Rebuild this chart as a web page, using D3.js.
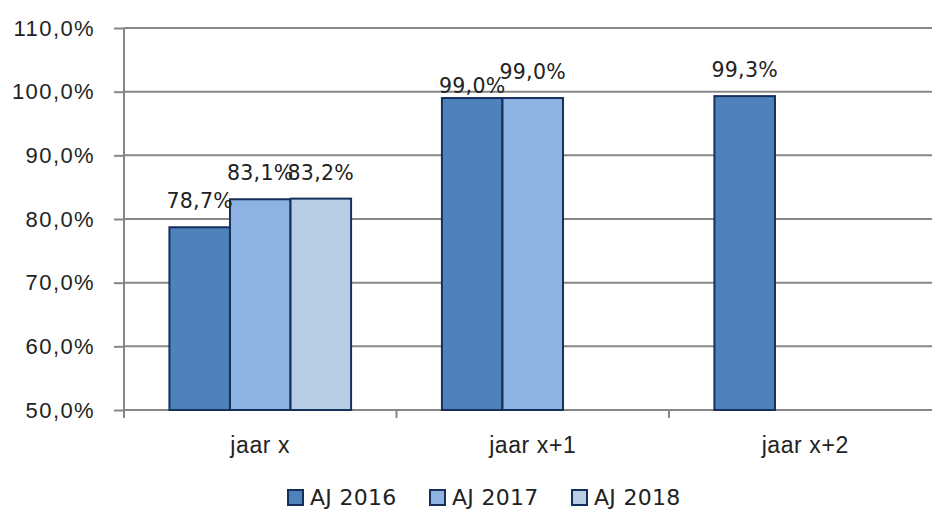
<!DOCTYPE html>
<html>
<head>
<meta charset="utf-8">
<script src="https://cdn.jsdelivr.net/npm/d3@7"></script>
<style>
  body { margin: 0; background: #fff; }
  svg { display: block; font-family: "DejaVu Sans", sans-serif; }
  .grid line { stroke: #878787; stroke-width: 2; }
  .axis path, .axis line { stroke: #878787; stroke-width: 2; }
  .axis text { fill: #222; }
  .bar { stroke: #15305a; stroke-width: 2; }
  .label { fill: #222; font-size: 20.5px; text-anchor: middle; letter-spacing: 0.3px; }
</style>
</head>
<body>
<div id="chart"></div>
<script>
// chart values
var categories = ['jaar x', 'jaar x+1', 'jaar x+2'];
var seriesNames = ['AJ 2016', 'AJ 2017', 'AJ 2018'];
var aj2016 = [78.7, 99.0, 99.3];
var aj2017 = [83.1, 99.0, null];
var aj2018 = [83.2, null, null];
var yTicks = [50, 60, 70, 80, 90, 100, 110];

var colors = ['#4f81bd', '#8db3e2', '#b9cde5'];

var width = 932, height = 511;
var plot = { left: 124, right: 941.5, top: 28, bottom: 410 };

var svg = d3.select('#chart').append('svg')
  .attr('width', width)
  .attr('height', height);

// one row per category, one value per series
var rows = categories.map(function(c, i) {
  return { cat: c, values: [aj2016[i], aj2017[i], aj2018[i]] };
});

var x0 = d3.scaleBand()
  .domain(categories)
  .range([plot.left, plot.right]);

// excel style gap width 150%: group of 3 bars centred in category
var x1 = d3.scaleBand()
  .domain(seriesNames)
  .range([0, x0.bandwidth()])
  .paddingInner(0)
  .paddingOuter(0.75);

var y = d3.scaleLinear()
  .domain([50, 110])
  .range([plot.bottom, plot.top]);

var fmt = function(d) { return d.toFixed(1).replace('.', ',') + '%'; };

// horizontal grid lines
svg.append('g')
  .attr('class', 'grid')
  .selectAll('line')
  .data(yTicks.slice(1))
  .enter().append('line')
    .attr('x1', plot.left)
    .attr('x2', width)
    .attr('y1', function(d) { return y(d); })
    .attr('y2', function(d) { return y(d); });

// y axis
var yAxis = svg.append('g')
  .attr('class', 'axis')
  .attr('transform', 'translate(' + plot.left + ',0)')
  .call(d3.axisLeft(y).tickValues(yTicks).tickSize(10).tickPadding(19).tickFormat(fmt));
yAxis.selectAll('text')
  .style('font-size', '22px')
  .style('letter-spacing', '1.4px');
yAxis.select('.domain').attr('d', 'M0,' + plot.top + 'V' + plot.bottom);

// x axis: labels at band centres, ticks on category boundaries
var xAxis = svg.append('g')
  .attr('class', 'axis')
  .attr('transform', 'translate(0,' + plot.bottom + ')')
  .call(d3.axisBottom(x0).tickSize(0).tickPadding(27));
xAxis.selectAll('text')
  .style('font-size', '23px')
  .style('letter-spacing', '0.6px');
xAxis.select('.domain').attr('d', 'M' + plot.left + ',0H' + plot.right);

xAxis.selectAll('.boundary')
  .data(categories)
  .enter().append('line')
    .attr('x1', function(d) { return x0(d); })
    .attr('x2', function(d) { return x0(d); })
    .attr('y1', 0)
    .attr('y2', 8);

// bars
var groups = svg.selectAll('.group')
  .data(rows)
  .enter().append('g')
    .attr('class', 'group')
    .attr('transform', function(d) { return 'translate(' + x0(d.cat) + ',0)'; });

var cells = function(d) {
  return d.values.map(function(v, i) { return { name: seriesNames[i], i: i, v: v, cat: d.cat }; })
    .filter(function(e) { return e.v != null; });
};

groups.selectAll('rect')
  .data(cells)
  .enter().append('rect')
    .attr('class', 'bar')
    .attr('x', function(d) { return x1(d.name); })
    .attr('width', x1.bandwidth())
    .attr('y', function(d) { return y(d.v); })
    .attr('height', function(d) { return y(50) - y(d.v); })
    .attr('fill', function(d) { return colors[d.i]; });

// data labels; first label of jaar x+1 sits lower (as in the original)
groups.selectAll('.label')
  .data(cells)
  .enter().append('text')
    .attr('class', 'label')
    .attr('x', function(d) { return x1(d.name) + x1.bandwidth() / 2; })
    .attr('y', function(d) {
      var gap = (d.cat === 'jaar x+1' && d.i === 0) ? 5 : 19;
      return y(d.v) - gap;
    })
    .text(function(d) { return fmt(d.v); });

// legend
var legend = svg.append('g')
  .attr('transform', 'translate(287,0)');

var item = legend.selectAll('.item')
  .data(seriesNames)
  .enter().append('g')
    .attr('class', 'item')
    .attr('transform', function(d, i) { return 'translate(' + (i * 142) + ',0)'; });

item.append('rect')
  .attr('x', 1)
  .attr('y', 490)
  .attr('width', 15)
  .attr('height', 15)
  .attr('fill', function(d, i) { return colors[i]; })
  .attr('stroke', '#15305a')
  .attr('stroke-width', 2);

item.append('text')
  .attr('x', 23)
  .attr('y', 505)
  .style('font-size', '22px')
  .style('letter-spacing', '0.3px')
  .attr('fill', '#222')
  .text(function(d) { return d; });
</script>
</body>
</html>
